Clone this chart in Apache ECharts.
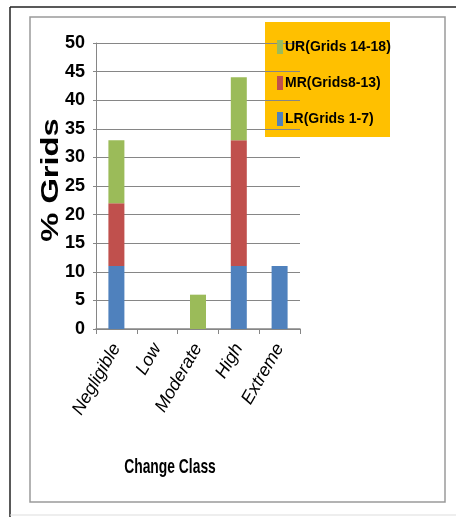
<!DOCTYPE html>
<html><head><meta charset="utf-8">
<script src="https://cdn.jsdelivr.net/npm/echarts@6/dist/echarts.min.js"></script>
<style>html,body{margin:0;padding:0;background:#fff}#c{width:456px;height:517px}</style>
</head><body><div id="c"></div>
<script>
const categories = ['Negligible', 'Low', 'Moderate', 'High', 'Extreme'];
const lrValues = [11, 0, 0, 11, 11];
const mrValues = [11, 0, 0, 22, 0];
const urValues = [11, 0, 6, 11, 0];
const seriesNames = ['LR(Grids 1-7)', 'MR(Grids8-13)', 'UR(Grids 14-18)'];
const colors = ['#4F81BD', '#C0504D', '#9BBB59'];
const sans = '"Liberation Sans", Arial, sans-serif';

const chart = echarts.init(document.getElementById('c'));
const mk = (name, data, color) => ({
  name, type: 'bar', stack: 'a', data, barWidth: 16,
  itemStyle: { color }
});
chart.setOption({
  animation: false,
  graphic: [
    { type: 'line', shape: { x1: 10, y1: 7, x2: 456, y2: 7 }, style: { stroke: '#222', lineWidth: 1.5 } },
    { type: 'line', shape: { x1: 10, y1: 7, x2: 10, y2: 517 }, style: { stroke: '#222', lineWidth: 1.5 } },
    { type: 'line', shape: { x1: 10, y1: 515, x2: 456, y2: 515 }, style: { stroke: '#ddd', lineWidth: 1 } },
    { type: 'rect', shape: { x: 30, y: 17, width: 415, height: 485 }, style: { fill: 'none', stroke: '#9a9a9a', lineWidth: 1.5 } },
    { type: 'rect', shape: { x: 265, y: 22, width: 125, height: 115 }, style: { fill: '#FFC000' }, z: 0 },
    { type: 'text', x: 51, y: 180, rotation: Math.PI / 2, scaleX: 1.36, style: { text: '% Grids', font: 'bold 24px ' + sans, fill: '#000', textAlign: 'center', textVerticalAlign: 'middle' } },
    { type: 'text', x: 170, y: 467, scaleX: 0.66, style: { text: 'Change Class', font: 'bold 21px ' + sans, fill: '#000', textAlign: 'center', textVerticalAlign: 'middle' } }
  ],
  legend: {
    data: [seriesNames[2], seriesNames[1], seriesNames[0]],
    orient: 'vertical', left: 272, top: 35, itemGap: 22,
    itemWidth: 6, itemHeight: 14, icon: 'rect',
    textStyle: { fontFamily: sans, fontWeight: 'bold', fontSize: 14, color: '#000', padding: [0, 0, 0, -3] },
    z: 5
  },
  grid: { left: 96, right: 156, top: 43, bottom: 188 },
  xAxis: {
    type: 'category', data: categories,
    axisLine: { lineStyle: { color: '#868686', width: 1.5 } },
    axisTick: { show: true, length: 5, lineStyle: { color: '#868686' } },
    axisLabel: { rotate: 60, fontStyle: 'italic', fontSize: 18, color: '#000', margin: 16, fontFamily: sans }
  },
  yAxis: {
    type: 'value', min: 0, max: 50, interval: 5,
    axisLine: { show: true, lineStyle: { color: '#868686', width: 1 } },
    axisTick: { show: true, length: 3, lineStyle: { color: '#868686' } },
    axisLabel: { fontFamily: sans, fontWeight: 'bold', fontSize: 18, color: '#000', margin: 11 },
    splitLine: { lineStyle: { color: '#868686', width: 1.2 } }
  },
  series: [mk(seriesNames[0], lrValues, colors[0]), mk(seriesNames[1], mrValues, colors[1]), mk(seriesNames[2], urValues, colors[2])]
});
</script></body></html>
